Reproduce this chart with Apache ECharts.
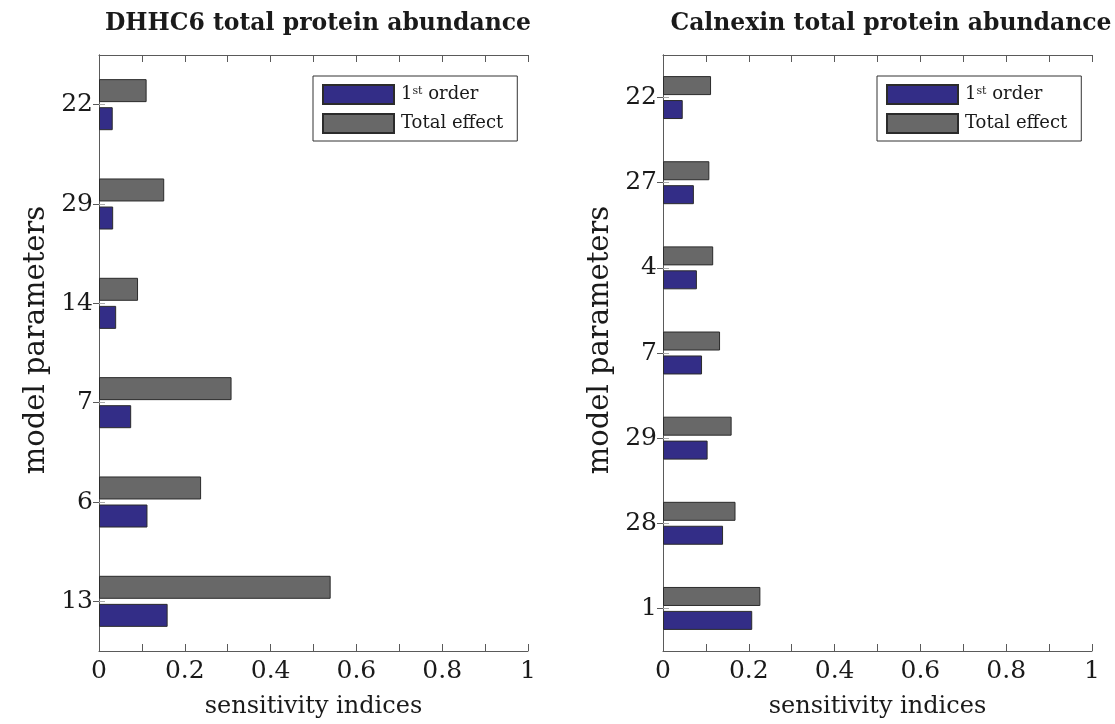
<!DOCTYPE html>
<html>
<head>
<meta charset="utf-8">
<script src="https://cdn.jsdelivr.net/npm/echarts@6/dist/echarts.min.js"></script>
<style>
  html, body { margin: 0; padding: 0; background: #fff; }
  #chart { width: 1115px; height: 724px; }
</style>
</head>
<body>
<div id="chart"></div>
<script>
// Sensitivity indices per model parameter, listed top to bottom
const dhhc6Params = ['22', '29', '14', '7', '6', '13'];
const dhhc6FirstOrder = [0.032, 0.033, 0.040, 0.075, 0.113, 0.160];
const dhhc6TotalEffect = [0.111, 0.152, 0.091, 0.309, 0.238, 0.540];

const calnexinParams = ['22', '27', '4', '7', '29', '28', '1'];
const calnexinFirstOrder = [0.046, 0.072, 0.079, 0.091, 0.104, 0.140, 0.208];
const calnexinTotalEffect = [0.112, 0.108, 0.117, 0.133, 0.160, 0.169, 0.227];

const xTickLabels = ['0', '0.2', '0.4', '0.6', '0.8', '1'];

const FONT = 'DejaVu Serif';
const TEXT = '#1a1a1a';
const AXIS = '#5a5a5a';
const BLUE = '#332d87';
const GRAY = '#686868';
const EDGE = '#2b2b2b';

const panels = [
  { title: 'DHHC6 total protein abundance', params: dhhc6Params, titleX: 313,
    first: dhhc6FirstOrder, total: dhhc6TotalEffect, left: 99, barWidth: 23, barGap: '22%' },
  { title: 'Calnexin total protein abundance', params: calnexinParams, titleX: 886,
    first: calnexinFirstOrder, total: calnexinTotalEffect, left: 663, barWidth: 19, barGap: '26%' }
];

const GRID_TOP = 55, GRID_W = 429, GRID_H = 597;

function xLabel(v) {
  const k = Math.round(v * 10);
  return k % 2 === 0 ? xTickLabels[k / 2] : '';
}

const option = {
  backgroundColor: '#fff',
  animation: false,
  title: [], grid: [], xAxis: [], yAxis: [], series: [], legend: []
};

panels.forEach((p, i) => {
  option.title.push({
    text: p.title,
    left: p.titleX, top: 7, textAlign: 'center',
    textStyle: { fontFamily: FONT, fontWeight: 'bold', fontSize: 23.5, color: TEXT }
  });
  option.grid.push({ left: p.left, top: GRID_TOP, width: GRID_W, height: GRID_H });

  // bottom value axis with labels, top mirror axis for the box ticks
  option.xAxis.push({
    type: 'value', gridIndex: i, position: 'bottom', min: 0, max: 1, interval: 0.1,
    name: 'sensitivity indices', nameLocation: 'middle', nameGap: 44,
    nameTextStyle: { fontFamily: FONT, fontSize: 24, color: TEXT },
    axisLine: { show: true, lineStyle: { color: AXIS, width: 1 } },
    axisTick: { show: true, inside: true, length: 7, lineStyle: { color: AXIS } },
    axisLabel: { formatter: xLabel, margin: 8, fontFamily: FONT, fontSize: 25, color: TEXT, showMinLabel: true, showMaxLabel: true },
    splitLine: { show: false }
  });
  option.xAxis.push({
    type: 'value', gridIndex: i, position: 'top', min: 0, max: 1, interval: 0.1,
    axisLine: { show: true, lineStyle: { color: AXIS, width: 1 } },
    axisTick: { show: true, inside: true, length: 7, lineStyle: { color: AXIS } },
    axisLabel: { show: false }, splitLine: { show: false }
  });

  option.yAxis.push({
    type: 'category', gridIndex: i, position: 'left', data: p.params, inverse: true,
    name: 'model parameters', nameLocation: 'middle', nameGap: 48,
    nameTextStyle: { fontFamily: FONT, fontSize: 29, color: TEXT, padding: [0, 0, 0, 26] },
    axisLine: { show: true, lineStyle: { color: AXIS, width: 1 } },
    axisTick: { show: true, inside: true, alignWithLabel: true, length: 6, lineStyle: { color: '#aaa' } },
    axisLabel: { margin: 6, fontFamily: FONT, fontSize: 25, color: TEXT },
    splitLine: { show: false }
  });
  option.yAxis.push({
    type: 'category', gridIndex: i, position: 'right', data: p.params, inverse: true,
    axisLine: { show: true, lineStyle: { color: AXIS, width: 1 } },
    axisTick: { show: true, inside: true, alignWithLabel: true, length: 6, lineStyle: { color: AXIS } },
    axisLabel: { show: false }, splitLine: { show: false }
  });

  option.series.push({
    type: 'bar', name: 'Total effect', xAxisIndex: 2 * i, yAxisIndex: 2 * i,
    data: p.total, barWidth: p.barWidth, barGap: p.barGap,
    itemStyle: { color: GRAY, borderColor: EDGE, borderWidth: 1 }
  });
  option.series.push({
    type: 'bar', name: '1st order', xAxisIndex: 2 * i, yAxisIndex: 2 * i,
    data: p.first, barWidth: p.barWidth, barGap: p.barGap,
    itemStyle: { color: BLUE, borderColor: EDGE, borderWidth: 1 }
  });

  option.legend.push({
    data: ['1st order', 'Total effect'],
    orient: 'vertical', left: p.left + 214, top: 76,
    itemWidth: 71, itemHeight: 19, itemGap: 8, icon: 'rect',
    padding: [8, 14, 7, 9],
    backgroundColor: '#fff', borderColor: '#333', borderWidth: 1, borderRadius: 0,
    selectedMode: false,
    formatter: n => n === '1st order' ? '1{sup|st} order' : n,
    textStyle: {
      fontFamily: FONT, fontSize: 18, color: TEXT, padding: [0, 0, 0, 2],
      rich: { sup: { fontFamily: FONT, fontSize: 11, color: TEXT, verticalAlign: 'top', lineHeight: 12 } }
    }
  });
});

const chart = echarts.init(document.getElementById('chart'), null, { renderer: 'canvas' });
chart.setOption(option);
</script>
</body>
</html>
